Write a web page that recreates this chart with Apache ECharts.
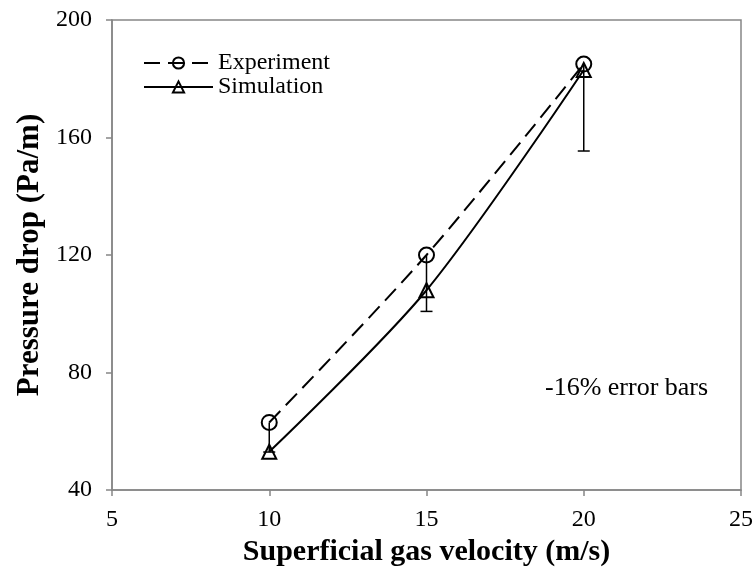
<!DOCTYPE html>
<html>
<head>
<meta charset="utf-8">
<script src="https://cdn.jsdelivr.net/npm/echarts@6/dist/echarts.min.js"></script>
<style>html,body{margin:0;padding:0;background:#fff;}#c{width:756px;height:576px;}</style>
</head>
<body>
<div id="c"></div>
<script>
var velocity = [10, 15, 20];
var experiment = [63, 120, 185];
var simulation = [53, 108, 183];
var errorPercent = 16;
var xTicks = [5, 10, 15, 20, 25];
var yTicks = [40, 80, 120, 160, 200];

var chart = echarts.init(document.getElementById('c'));
var font = 'Liberation Serif, Times New Roman, serif';
var axisColor = '#868686';

var expData = velocity.map(function (v, i) { return [v, experiment[i]]; });
var simData = velocity.map(function (v, i) { return [v, simulation[i]]; });
var errData = velocity.map(function (v, i) { return [v, experiment[i], experiment[i] * (1 - errorPercent / 100)]; });

chart.setOption({
  animation: false,
  backgroundColor: '#fff',
  grid: { left: 112, right: 14, top: 20, bottom: 86, show: true, borderColor: axisColor, borderWidth: 1.5 },
  legend: {
    left: 138, top: 46, orient: 'vertical', itemGap: 0, itemWidth: 69, itemHeight: 14,
    textStyle: { fontFamily: font, fontSize: 24, lineHeight: 24, color: '#000' },
    data: ['Experiment', 'Simulation']
  },
  xAxis: {
    type: 'value', min: xTicks[0], max: xTicks[xTicks.length - 1], interval: 5,
    splitLine: { show: false },
    axisLine: { lineStyle: { color: axisColor, width: 1.5 } },
    axisTick: { show: true, length: 6, lineStyle: { color: axisColor, width: 1.5 } },
    axisLabel: { fontFamily: font, fontSize: 24, color: '#000', margin: 18 },
    name: 'Superficial gas velocity (m/s)', nameLocation: 'middle', nameGap: 46,
    nameTextStyle: { fontFamily: font, fontSize: 30, fontWeight: 'bold', color: '#000' }
  },
  yAxis: {
    type: 'value', min: yTicks[0], max: yTicks[yTicks.length - 1], interval: 40,
    splitLine: { show: false },
    axisLine: { show: true, lineStyle: { color: axisColor, width: 1.5 } },
    axisTick: { show: true, length: 6, lineStyle: { color: axisColor, width: 1.5 } },
    axisLabel: { fontFamily: font, fontSize: 24, color: '#000', margin: 20 },
    name: 'Pressure drop (Pa/m)', nameLocation: 'middle', nameGap: 66,
    nameTextStyle: { fontFamily: font, fontSize: 31, fontWeight: 'bold', color: '#000' }
  },
  series: [
    {
      name: 'Experiment', type: 'line', data: expData, smooth: 0.3,
      symbol: 'circle', symbolSize: 15, showAllSymbol: true,
      lineStyle: { color: '#000', width: 2, type: [16, 8] },
      itemStyle: { color: 'rgba(255,255,255,0)', borderColor: '#000', borderWidth: 2 },
      z: 3
    },
    {
      name: 'Simulation', type: 'line', data: simData, smooth: 0.3,
      symbol: 'triangle', symbolSize: 14,
      lineStyle: { color: '#000', width: 2 },
      itemStyle: { color: 'rgba(255,255,255,0)', borderColor: '#000', borderWidth: 2 },
      z: 3
    },
    {
      name: 'err', type: 'custom', data: errData, z: 2,
      renderItem: function (params, api) {
        var top = api.coord([api.value(0), api.value(1)]);
        var bot = api.coord([api.value(0), api.value(2)]);
        var hw = 6;
        return {
          type: 'group',
          children: [
            { type: 'line', shape: { x1: top[0], y1: top[1], x2: bot[0], y2: bot[1] }, style: { stroke: '#000', lineWidth: 1.5 } },
            { type: 'line', shape: { x1: bot[0] - hw, y1: bot[1], x2: bot[0] + hw, y2: bot[1] }, style: { stroke: '#000', lineWidth: 1.5 } }
          ]
        };
      }
    }
  ],
  graphic: [
    { type: 'text', left: 545, top: 375, style: { text: '-16% error bars', fontFamily: font, fontSize: 26, fill: '#000' } }
  ]
});
</script>
</body>
</html>
